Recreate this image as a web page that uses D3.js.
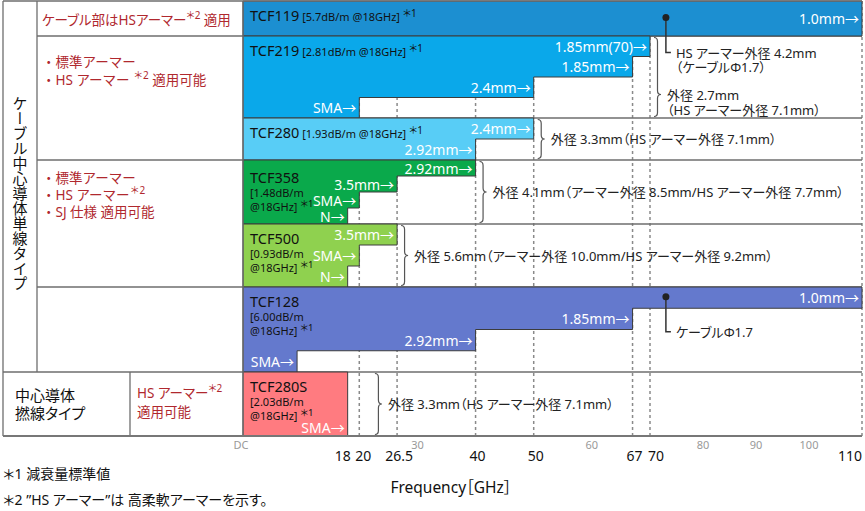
<!DOCTYPE html>
<html><head><meta charset="utf-8">
<script src="https://cdn.jsdelivr.net/npm/d3@7"></script>
<style>
body{margin:0;background:#fff}
svg{display:block}
text{white-space:pre;font-feature-settings:"palt" 1}
.vert,.nopalt{font-feature-settings:normal}
</style>
</head><body>
<script>
// ---------- data ----------
const cables = ["TCF119","TCF219","TCF280","TCF358","TCF500","TCF128","TCF280S"];
const losses = ["5.7dB/m @18GHz","2.81dB/m @18GHz","1.93dB/m @18GHz","1.48dB/m @18GHz","0.93dB/m @18GHz","6.00dB/m @18GHz","2.03dB/m @18GHz"];
const connectorNames = [
  ["1.0mm"],
  ["1.85mm(70)","1.85mm","2.4mm","SMA"],
  ["2.4mm","2.92mm"],
  ["2.92mm","3.5mm","SMA","N"],
  ["3.5mm","SMA","N"],
  ["1.0mm","1.85mm","2.92mm","SMA"],
  ["SMA"]
];
const maxFreqs = [
  [110],
  [70,67,50,20],
  [50,40],
  [40,26.5,20,18],
  [26.5,20,18],
  [110,67,40,9.3],
  [18]
];
const colors = ["#1c8fd1","#0aa8ea","#58cdf6","#0aa94b","#8fd14f","#6479cd","#ff7b80"];
const sizeNotes = [
  null,
  ["外径 2.7mm","（HS アーマー外径 7.1mm）"],
  ["外径 3.3mm（HS アーマー外径 7.1mm）"],
  ["外径 4.1mm（アーマー外径 8.5mm/HS アーマー外径 7.7mm）"],
  ["外径 5.6mm（アーマー外径 10.0mm/HS アーマー外径 9.2mm）"],
  null,
  ["外径 3.3mm（HS アーマー外径 7.1mm）"]
];
const braceFreqs = [null,70,50,40,26.5,null,22];
const markerFreqs = [73,null,null,null,null,73,null];
const markerNotes = [["HS アーマー外径 4.2mm","（ケーブルΦ1.7）"],null,null,null,null,["ケーブルΦ1.7"],null];
const gridFreqs = [20,26.5,40,50,67,70,110];
const majorTicks = [18,20,26.5,40,50,67,70,110];
const minorTicks = [0,30,60,80,90,100];
const minorTickLabels = ["DC","30","60","80","90","100"];
const groupRows = [[0],[1,2],[3,4],[5]];
const groupTexts = [
  ["ケーブル部はHSアーマー＊2 適用"],
  ["・標準アーマー","・HS アーマー ＊2 適用可能"],
  ["・標準アーマー","・HS アーマー＊2","・SJ 仕様 適用可能"],
  []
];
const verticalTitle = "ケーブル中心導体単線タイプ";
const strandedTitle = ["中心導体","撚線タイプ"];
const strandedText = ["HS アーマー＊2","適用可能"];
const footnotes = ["＊1 減衰量標準値","＊2 ”HS アーマー”は 高柔軟アーマーを示す。"];
const axisTitle = "Frequency［GHz］";

// ---------- layout ----------
const W = 865, H = 511;
const FONT = "'Noto Sans','Noto Sans CJK JP',sans-serif";
const rowHeights = [35,82,42,64,63,85,64];
const nameOffsets = [19.5,19.5,19.5,23,19.5,19.5,19.5];
const top0 = 1;
const rowTop = rowHeights.map((h,i)=>top0 + d3.sum(rowHeights.slice(0,i)));
const bottom = top0 + d3.sum(rowHeights);
const tableL = 3, col1 = 37, col2 = 130;
const groupFirst = [19,26,18];
const groupGap = [0,18,17];
const lineCol = "#6e6e6e";
const red = "#b0282e";

const x = d3.scaleLinear().domain([0,70,110]).range([243,650,862]);
const x0 = x(0);

const svg = d3.select("body").append("svg")
  .attr("width",W).attr("height",H)
  .attr("font-family",FONT);

function rich(sel, str, size, supSize, rise=5){
  const parts = str.split(/(＊\d)/).filter(s=>s.length);
  let pending = 0;
  parts.forEach(p=>{
    const sup = /^＊\d$/.test(p);
    const t = sel.append("tspan").text(p).attr("font-size", sup?supSize:size);
    if(sup){ t.attr("dy",-rise); pending = rise; }
    else if(pending){ t.attr("dy",pending); pending = 0; }
  });
  return sel;
}

// grid (dashed)
svg.append("g").selectAll("line").data(gridFreqs).join("line")
  .attr("x1",d=>x(d)).attr("x2",d=>x(d))
  .attr("y1",top0).attr("y2",bottom)
  .attr("stroke","#8a8a8a").attr("stroke-width",1.5)
  .attr("stroke-dasharray","3,3");

// row separators
const groupStartRows = groupRows.map(g=>g[0]).concat([6]);
svg.append("g").selectAll("line").data(d3.range(1,cables.length)).join("line")
  .attr("x1",i=> i===6 ? tableL : (groupStartRows.includes(i) ? col1 : x0))
  .attr("x2",x(110))
  .attr("y1",i=>rowTop[i]).attr("y2",i=>rowTop[i])
  .attr("stroke",lineCol).attr("stroke-width",1.3);

// bars (staircase)
const bars = svg.append("g");
cables.forEach((c,i)=>{
  const fs = maxFreqs[i], n = fs.length, bh = rowHeights[i]/n, t = rowTop[i];
  const p = d3.path();
  p.moveTo(x0,t);
  fs.forEach((f,j)=>{ p.lineTo(x(f),t+j*bh); p.lineTo(x(f),t+(j+1)*bh); });
  p.lineTo(x0,t+rowHeights[i]);
  p.closePath();
  bars.append("path").attr("d",p.toString())
    .attr("fill",colors[i]).attr("stroke","#3c3c3c").attr("stroke-width",1);
  // connector labels
  fs.forEach((f,j)=>{
    const yc = bh>45 ? t+(j+1)*bh-9 : t+(j+0.5)*bh;
    bars.append("text").attr("x",x(f)-3).attr("y",yc)
      .attr("text-anchor","end").attr("dominant-baseline","central")
      .attr("font-size",14).attr("fill","#fff")
      .text(connectorNames[i][j]+"→");
  });
  // names
  const ny = t+nameOffsets[i];
  const tx = bars.append("text").attr("x",x0+7).attr("y",ny).attr("fill","#111");
  tx.append("tspan").attr("font-size",14.5).text(c);
  if(i<3){
    rich(tx," ["+losses[i]+"] ＊1",11,10,4);
  } else {
    const parts = losses[i].split(" ");
    bars.append("text").attr("x",x0+7).attr("y",ny+14).attr("fill","#111")
      .attr("font-size",11).text("["+parts[0]);
    rich(bars.append("text").attr("x",x0+7).attr("y",ny+28).attr("fill","#111"),
      parts[1]+"] ＊1",11,9.5,4);
  }
});

// braces + size notes
const notes = svg.append("g");
cables.forEach((c,i)=>{
  if(!sizeNotes[i]) return;
  const t = rowTop[i]+1.5, b = rowTop[i]+rowHeights[i]-1.5;
  const mid = rowTop[i]+rowHeights[i]/2;
  const lines = sizeNotes[i];
  const ys = lines.length>1 ? [mid+17.5, mid+32.5] : [mid];
  const tip = ys[0];
  const bx = x(braceFreqs[i])+4;
  const p = d3.path();
  p.moveTo(bx,t);
  p.quadraticCurveTo(bx+3.5,t,bx+3.5,t+4);
  p.lineTo(bx+3.5,tip-4);
  p.quadraticCurveTo(bx+3.5,tip,bx+7,tip);
  p.quadraticCurveTo(bx+3.5,tip,bx+3.5,tip+4);
  p.lineTo(bx+3.5,b-4);
  p.quadraticCurveTo(bx+3.5,b,bx,b);
  notes.append("path").attr("d",p.toString()).attr("fill","none")
    .attr("stroke","#555").attr("stroke-width",1.2);
  lines.forEach((l,k)=>{
    notes.append("text").attr("x",bx+13).attr("y",ys[k])
      .attr("dominant-baseline","central").attr("font-size",13)
      .attr("fill","#222").text(l);
  });
});

// markers
cables.forEach((c,i)=>{
  if(markerFreqs[i]==null) return;
  const bh = rowHeights[i]/maxFreqs[i].length;
  const my = rowTop[i]+bh/2-1;
  const mx = x(markerFreqs[i]);
  const ny = my+35;
  notes.append("path").attr("d",`M${mx},${my}V${ny}H${mx+5}`)
    .attr("fill","none").attr("stroke","#333").attr("stroke-width",1.5);
  notes.append("circle").attr("cx",mx).attr("cy",my).attr("r",3.5).attr("fill","#222");
  markerNotes[i].forEach((l,k)=>{
    notes.append("text").attr("x",mx+10).attr("y",ny+k*14)
      .attr("dominant-baseline","central").attr("font-size",13)
      .attr("fill","#222").text(l);
  });
});

// table frame
const frame = svg.append("g").attr("stroke",lineCol).attr("stroke-width",1.3);
[[tableL,top0,tableL,bottom],[col1,top0,col1,rowTop[6]],[col2,rowTop[6],col2,bottom],
 [x0,top0,x0,bottom],[tableL,top0,x(110),top0]].forEach(s=>{
  frame.append("line").attr("x1",s[0]).attr("y1",s[1]).attr("x2",s[2]).attr("y2",s[3]);
});
svg.append("line").attr("x1",tableL).attr("x2",x(110)).attr("y1",bottom).attr("y2",bottom)
  .attr("stroke","#777").attr("stroke-width",2);

// left table texts
groupRows.forEach((rows,gi)=>{
  groupTexts[gi].forEach((l,k)=>{
    const t = svg.append("text").attr("x",col1+5).attr("y",rowTop[rows[0]]+groupFirst[gi]+k*groupGap[gi])
      .attr("dominant-baseline","central").attr("fill",red);
    if(l.startsWith("・")) t.attr("class","nopalt");
    rich(t,l,13.5,10,5);
  });
});
svg.append("text").attr("class","vert")
  .attr("x",(tableL+col1)/2).attr("y",(top0+rowTop[6])/2+7)
  .attr("text-anchor","middle")
  .style("writing-mode","vertical-rl")
  .attr("font-family","'Noto Sans CJK JP',sans-serif")
  .attr("font-size",15).attr("fill","#111").text(verticalTitle);
strandedTitle.forEach((l,k)=>{
  svg.append("text").attr("x",tableL+12).attr("y",rowTop[6]+22.5+k*18)
    .attr("dominant-baseline","central").attr("font-size",15).attr("fill","#111").text(l);
});
strandedText.forEach((l,k)=>{
  rich(svg.append("text").attr("x",col2+7).attr("y",rowTop[6]+21+k*18.5)
    .attr("dominant-baseline","central").attr("fill",red),l,13.5,10,5);
});

// axis ticks
const tickDx = {18:-5,20:4,70:6};
svg.append("g").selectAll("text").data(majorTicks).join("text")
  .attr("x",d=>x(d)+(d===110?0:(tickDx[d]??2)))
  .attr("y",bottom+25)
  .attr("text-anchor",d=>d===110?"end":"middle")
  .attr("font-size",14).attr("fill","#111").text(d=>d);
svg.append("g").selectAll("text").data(minorTicks).join("text")
  .attr("x",d=>x(d)-(d===0?2:0)).attr("y",bottom+13)
  .attr("text-anchor","middle")
  .attr("font-size",11).attr("fill","#999").text((d,i)=>minorTickLabels[i]);
svg.append("text").attr("x",451).attr("y",bottom+57).attr("text-anchor","middle")
  .attr("font-size",15.5).attr("fill","#111").text(axisTitle);

// footnotes
footnotes.forEach((f,k)=>{
  svg.append("text").attr("x",tableL).attr("y",bottom+43+k*26)
    .attr("font-size",14).attr("fill","#111").text(f);
});
</script>
</body></html>
